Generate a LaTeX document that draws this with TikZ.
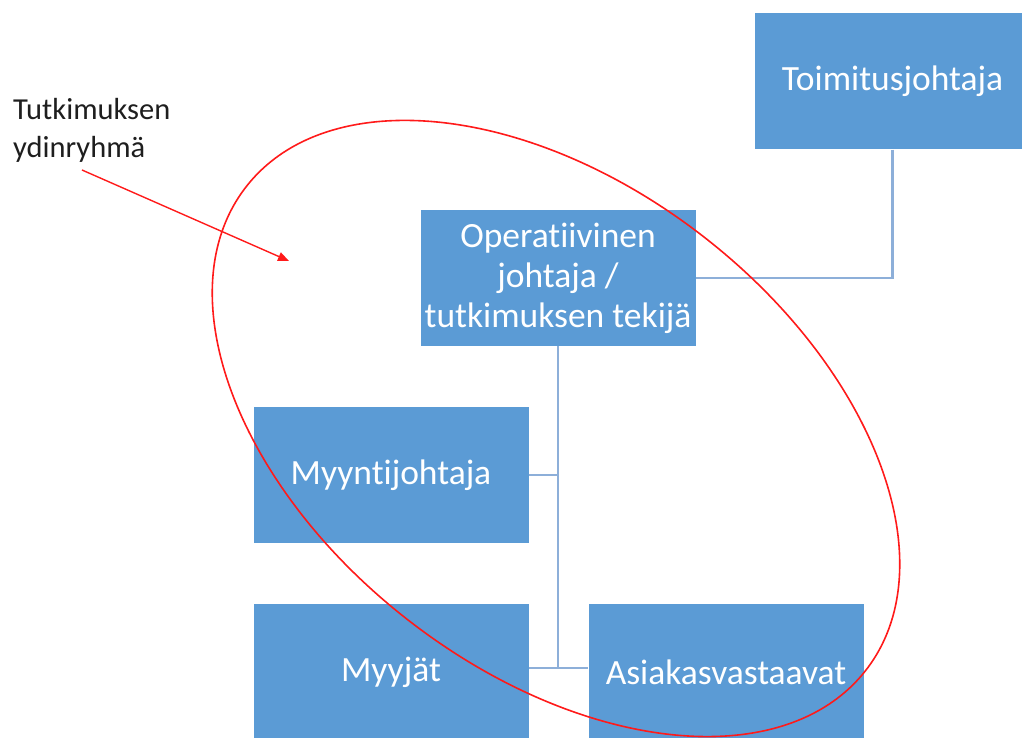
\documentclass[tikz,border=0pt]{standalone}
\usepackage{fontspec}
\setmainfont[Ligatures={NoCommon}]{Carlito}
\usetikzlibrary{arrows.meta}
\definecolor{boxblue}{HTML}{5B9BD5}
\definecolor{linkblue}{HTML}{8DAFD9}
\definecolor{notered}{HTML}{FF1A1A}
\definecolor{notetext}{HTML}{1E1E1E}
\tikzset{
  orgbox/.style={fill=boxblue, draw=none, minimum width=275pt, minimum height=136pt,
    inner sep=2pt, text=white, align=center,
    font=\fontsize{35.5}{40}\selectfont},
  orglink/.style={draw=linkblue, line width=2.2pt},
  notelabel/.style={inner sep=0pt, align=left, text=notetext,
    font=\fontsize{30.5}{38}\selectfont},
  notearrow/.style={draw=notered, line width=1.4pt, -{Triangle[length=11pt,width=9pt]}},
  groupring/.style={draw=notered, line width=1.6pt}
}
\begin{document}
\begin{tikzpicture}[x=1pt,y=1pt]
  \useasboundingbox (0,0) rectangle (1022,738);
  \clip (0,0) rectangle (1022,738);

  % organisation boxes
  \node[orgbox] (ceo)   at (892.5,656.5) {Toimitusjohtaja};
  \node[orgbox] (oper)  at (558,460)     {Operatiivinen\\johtaja /\\tutkimuksen tekijä};
  \node[orgbox] (sales) at (391,263)     {Myyntijohtaja};
  \node[orgbox] (sell)  at (391,66)      {Myyjät};
  \node[orgbox] (acct)  at (726,66)      {Asiakasvastaavat};

  % reporting lines
  \draw[orglink] (ceo.south) |- (oper.east);
  \coordinate (trunk) at ([yshift=4pt]sell.east -| oper.south);
  \draw[orglink] (oper.south) -- (trunk);
  \draw[orglink] (sales.east) -- (sales.east -| oper.south);
  \draw[orglink] ([yshift=4pt]sell.east) -- ([yshift=4pt]acct.west);

  % core group annotation
  \node[notelabel, anchor=north west] (note) at (13,640) {Tutkimuksen\\ydinryhmä};
  \coordinate (notefrom) at (82,568);
  \coordinate (noteto) at (289,477);
  \draw[notearrow] (notefrom) -- (noteto);
  \draw[groupring] (556,309.5) ellipse [x radius=393pt, y radius=242pt, rotate=-38];
\end{tikzpicture}
\end{document}
